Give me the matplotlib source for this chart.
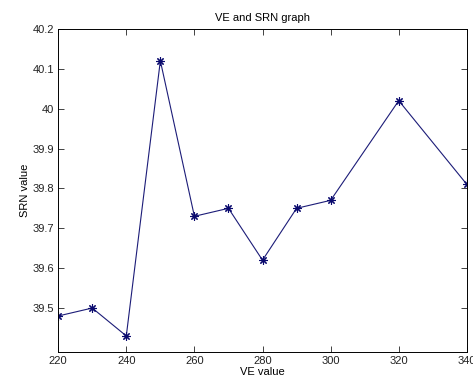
import matplotlib.pyplot as plt

ve = [220, 230, 240, 250, 260, 270, 280, 290, 300, 320, 340]
srn = [39.48, 39.50, 39.43, 40.12, 39.73, 39.75, 39.62, 39.75, 39.77, 40.02, 39.81]
xticks = [220, 240, 260, 280, 300, 320, 340]
yticks = [39.5, 39.6, 39.7, 39.8, 39.9, 40.0, 40.1, 40.2]
ylabels = ["39.5", "39.6", "39.7", "39.8", "39.9", "40", "40.1", "40.2"]

plt.rcParams["font.family"] = ["Liberation Sans", "DejaVu Sans"]
plt.rcParams["font.size"] = 8

fig = plt.figure(figsize=(4.73, 3.85), dpi=100)
ax = fig.add_axes([0.123, 0.086, 0.864, 0.839])
# MATLAB style asterisk marker (plus + cross)
ax.plot(ve, srn, color="#1c1c78", lw=0.8, marker=(8, 2, 0), ms=6, mew=0.8,
        mec="#0a0a6e")

ax.set_xlim(220, 340)
ax.set_ylim(39.39, 40.2)
ax.set_xticks(xticks)
ax.set_yticks(yticks)
ax.set_yticklabels(ylabels)
ax.tick_params(direction="in", top=True, right=True, length=4, width=0.6, pad=3,
               colors="#222222")
for s in ax.spines.values():
    s.set_linewidth(0.7)

ax.set_title("VE and SRN graph", fontsize=8, pad=6)
ax.set_xlabel("VE value", labelpad=1)
ax.set_ylabel("SRN value", labelpad=2)

fig.savefig("out.png", dpi=100)
